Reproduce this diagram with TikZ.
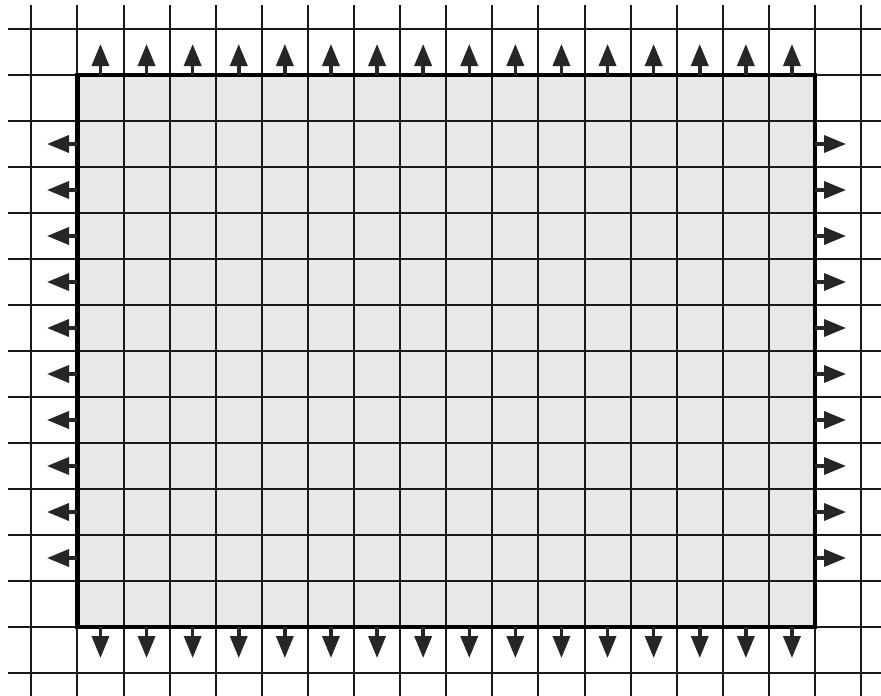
\documentclass[tikz,border=0pt]{standalone}
\usetikzlibrary{arrows.meta}
\begin{document}
\begin{tikzpicture}[x=1pt,y=-1pt,
  gridline/.style={line width=2pt, draw=black!90},
  outarrow/.style={line width=3.5pt, draw=black!85, fill=black!85, -{Triangle[length=22pt,width=17pt]}},
  frame/.style={line width=4.5pt, draw=black},
  cellfill/.style={fill=black!9}]
\useasboundingbox (0,0) rectangle (881,696);
\clip (0,0) rectangle (881,696);
\fill[white] (0,0) rectangle (881,696);
% shaded region
\fill[cellfill] (77.4,75) rectangle (815,627);
% grid
\foreach \i in {0,...,18}
  \draw[gridline] ({31.3+46.1*\i},5) -- ({31.3+46.1*\i},700);
\foreach \j in {0,...,14}
  \draw[gridline] (8,{29+46*\j}) -- (885,{29+46*\j});
% frame
\draw[frame] (77.4,75) rectangle (815,627);
% top and bottom arrows
\foreach \i in {1,...,16} {
  \coordinate (t\i) at ({31.3+46.1*(\i+0.5)},75);
  \coordinate (tt\i) at ({31.3+46.1*(\i+0.5)},44);
  \coordinate (b\i) at ({31.3+46.1*(\i+0.5)},627);
  \coordinate (bb\i) at ({31.3+46.1*(\i+0.5)},658);
  \draw[outarrow] (t\i) -- (tt\i);
  \draw[outarrow] (b\i) -- (bb\i);
}
% left and right arrows
\foreach \j in {2,...,11} {
  \coordinate (l\j) at (77.4,{29+46*(\j+0.5)});
  \coordinate (ll\j) at (47,{29+46*(\j+0.5)});
  \coordinate (r\j) at (815,{29+46*(\j+0.5)});
  \coordinate (rr\j) at (846,{29+46*(\j+0.5)});
  \draw[outarrow] (l\j) -- (ll\j);
  \draw[outarrow] (r\j) -- (rr\j);
}
\end{tikzpicture}
\end{document}
